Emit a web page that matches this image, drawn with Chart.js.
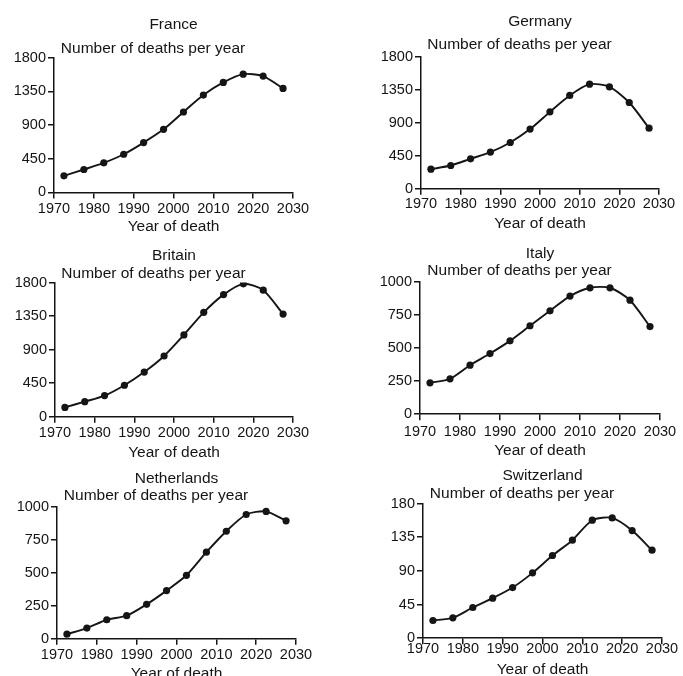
<!DOCTYPE html>
<html>
<head>
<meta charset="utf-8">
<script src="https://cdn.jsdelivr.net/npm/chart.js@4.4.0/dist/chart.umd.min.js"></script>
<style>
body { margin: 0; background: #fff; }
#wrap { position: relative; width: 683px; height: 676px; overflow: hidden; background: #fff; }
#wrap canvas { position: absolute; }
</style>
</head>
<body>
<div id="wrap"></div>
<script>
// five-year periods, plotted at their midpoints
const years = [1972.5, 1977.5, 1982.5, 1987.5, 1992.5, 1997.5, 2002.5, 2007.5, 2012.5, 2017.5, 2022.5, 2027.5];
const xTicks = [1970, 1980, 1990, 2000, 2010, 2020, 2030];

const france = [222, 307, 396, 511, 667, 844, 1076, 1302, 1471, 1582, 1556, 1391];
const germany = [267, 317, 408, 499, 630, 812, 1047, 1270, 1424, 1387, 1174, 825];
const britain = [126, 203, 284, 423, 599, 815, 1098, 1400, 1638, 1782, 1697, 1377];
const italy = [237, 267, 370, 458, 554, 668, 781, 892, 955, 955, 861, 662];
const netherlands = [35, 81, 144, 175, 261, 365, 481, 656, 815, 942, 965, 894];
const switzerland = [23.6, 27.2, 41, 53.5, 67.7, 87.3, 110.5, 131, 157.7, 160.8, 143.9, 117.6];

const yTicks1800 = [0, 450, 900, 1350, 1800];
const yTicks1000 = [0, 250, 500, 750, 1000];
const yTicks180 = [0, 45, 90, 135, 180];

const ink = '#151515';
const titleSize = 15.5;
const half = titleSize * 1.1 / 2;
const nudge = 2; // glyph centre sits a bit below the em box centre

// where each plot area and its headings sit on the page
const panels = [
    { name: 'France', values: france, ticks: yTicks1800, L: 54, R: 293, T: 58, B: 193, tc: 22.7, sc: 46.7, xl: 207, yt: 225 },
    { name: 'Germany', values: germany, ticks: yTicks1800, L: 421, R: 659, T: 57, B: 189, tc: 20, sc: 43.3, xl: 202, yt: 221.7 },
    { name: 'Britain', values: britain, ticks: yTicks1800, L: 55, R: 293, T: 283, B: 417, tc: 254, sc: 271.7, xl: 431, yt: 450.7 },
    { name: 'Italy', values: italy, ticks: yTicks1000, L: 420, R: 660, T: 282, B: 414, tc: 251.7, sc: 269, xl: 429, yt: 448.3 },
    { name: 'Netherlands', values: netherlands, ticks: yTicks1000, L: 56.5, R: 295, T: 507, B: 639, tc: 476.7, sc: 494, xl: 652.7, yt: 671.7 },
    { name: 'Switzerland', values: switzerland, ticks: yTicks180, L: 423, R: 661.5, T: 504, B: 639, tc: 474, sc: 491.7, xl: 647.3, yt: 668.3 }
];

const wrap = document.getElementById('wrap');

panels.forEach(p => {
    const yAxisW = 41;
    const padRight = 20;
    const left = p.L - yAxisW;
    const top = p.tc - half - 4 + nudge;
    const xAxisH = p.yt - p.B + half + nudge;
    const width = p.R + padRight - left;
    const height = p.B + xAxisH - top;

    const canvas = document.createElement('canvas');
    canvas.width = Math.round(width);
    canvas.height = Math.round(height);
    canvas.style.left = left + 'px';
    canvas.style.top = top + 'px';
    wrap.appendChild(canvas);

    new Chart(canvas, {
        type: 'line',
        data: {
            datasets: [{
                data: years.map((yr, i) => ({ x: yr, y: p.values[i] })),
                borderColor: ink,
                backgroundColor: ink,
                borderWidth: 1.9,
                pointRadius: 3.6,
                pointBorderWidth: 0,
                tension: 0.25,
                fill: false
            }]
        },
        options: {
            responsive: false,
            animation: false,
            layout: { padding: { left: 0, right: padRight, top: 0, bottom: 0 } },
            plugins: {
                legend: { display: false },
                tooltip: { enabled: false },
                title: {
                    display: true,
                    fullSize: false,
                    text: p.name,
                    color: ink,
                    font: { family: 'Liberation Sans', size: titleSize, weight: 'normal', lineHeight: 1.1 },
                    padding: { top: 4, bottom: Math.max(0, p.sc - p.tc - 2 * half) }
                },
                subtitle: {
                    display: true,
                    text: 'Number of deaths per year',
                    color: ink,
                    font: { family: 'Liberation Sans', size: titleSize, lineHeight: 1.1 },
                    padding: { top: 0, bottom: Math.max(0, p.T - p.sc - half - nudge) }
                }
            },
            scales: {
                x: {
                    type: 'linear',
                    min: 1970,
                    max: 2030,
                    afterBuildTicks: axis => { axis.ticks = xTicks.map(v => ({ value: v })); },
                    afterFit: axis => { axis.height = xAxisH; },
                    grid: { drawOnChartArea: false, drawTicks: true, tickLength: 6, color: ink, lineWidth: 1.5 },
                    border: { color: ink, width: 1.5 },
                    ticks: {
                        color: ink,
                        font: { family: 'Liberation Sans', size: 14.5 },
                        padding: p.xl - p.B - 6 - 8 + nudge,
                        maxRotation: 0,
                        autoSkip: false,
                        callback: v => String(v)
                    },
                    title: {
                        display: true,
                        text: 'Year of death',
                        color: ink,
                        font: { family: 'Liberation Sans', size: titleSize, lineHeight: 1.1 },
                        padding: 0
                    }
                },
                y: {
                    min: 0,
                    max: p.ticks[p.ticks.length - 1],
                    afterBuildTicks: axis => { axis.ticks = p.ticks.map(v => ({ value: v })); },
                    afterFit: axis => { axis.width = yAxisW; },
                    grid: { drawOnChartArea: false, drawTicks: true, tickLength: 6, color: ink, lineWidth: 1.5 },
                    border: { color: ink, width: 1.5 },
                    ticks: {
                        color: ink,
                        font: { family: 'Liberation Sans', size: 14.5 },
                        padding: 2,
                        callback: v => String(v)
                    }
                }
            }
        }
    });
});
</script>
</body>
</html>
